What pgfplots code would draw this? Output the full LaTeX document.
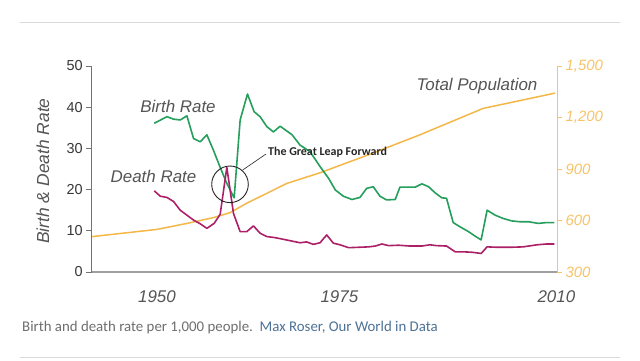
\documentclass[border=0pt]{standalone}
\usepackage{pgfplots}
\pgfplotsset{compat=1.18}
\usepackage{fontspec}
\setmainfont{Liberation Sans}
\newfontfamily\carlito{Carlito}
\definecolor{birth}{RGB}{38,158,92}
\definecolor{death}{RGB}{172,32,104}
\definecolor{pop}{RGB}{244,184,72}
\definecolor{poplab}{RGB}{246,196,104}
\definecolor{txt}{RGB}{85,85,85}
\definecolor{cap}{RGB}{110,110,110}
\definecolor{link}{RGB}{78,114,150}
\begin{document}
\begin{tikzpicture}[x=1bp,y=1bp]
\useasboundingbox (0,0) rectangle (640,360);
\fill[white] (0,0) rectangle (640,360);
\draw[gray!30, line width=0.8bp] (20,338) -- (620,338);
\draw[gray!30, line width=0.8bp] (20,3) -- (620,3);
% right axis: population
\begin{axis}[
  at={(91.7bp,88bp)}, anchor=south west, scale only axis,
  width=465.3bp, height=206bp,
  xmin=1939.6, xmax=2009.5, ymin=300, ymax=1500,
  axis y line*=right, axis x line=none,
  y axis line style={draw=poplab, line width=0.8bp},
  ytick={300,600,900,1200,1500},
  ytick style={draw=poplab, line width=0.8bp},
  tick align=outside, major tick length=5bp,
  yticklabel style={font=\fontsize{15}{15}\selectfont\itshape, text=poplab},
  /pgf/number format/assume math mode=true,
  /pgf/number format/1000 sep={,},
  clip=false,
]
\addplot[pop, line width=1.5bp, line join=round] coordinates {
(1939.6,506) (1949.4,548) (1953.9,583) (1957.9,617) (1960.4,646)
(1962.9,701) (1965.9,758) (1968.9,816) (1973.9,878) (1981.4,986)
(1988.9,1099) (1998.4,1253) (2009.2,1342)
};
\end{axis}
% left axis: birth and death rate
\begin{axis}[
  at={(91.7bp,88bp)}, anchor=south west, scale only axis,
  width=465.3bp, height=206bp,
  xmin=1939.6, xmax=2009.5, ymin=0, ymax=50,
  axis x line*=bottom, axis y line*=left,
  x axis line style={draw=gray!75, line width=1.6bp},
  y axis line style={draw=gray!90!black, line width=0.8bp},
  ytick={0,10,20,30,40,50},
  xtick={1949.4,1976.8,2009.4}, xticklabels={1950,1975,2010},
  xtick style={draw=none},
  ytick style={draw=gray!90!black, line width=0.8bp},
  tick align=outside, major tick length=5.5bp,
  yticklabel style={font=\fontsize{14.5}{14.5}\selectfont, text=black!78},
  xticklabel style={font=\fontsize{17}{17}\selectfont\itshape, text=txt, yshift=-10bp},
  /pgf/number format/assume math mode=true,
  clip=false,
]
\addplot[birth, line width=1.6bp, line join=round] coordinates {
(1949.0,36.1) (1950.9,37.7) (1951.9,37.1) (1952.9,36.9) (1953.9,37.9)
(1954.9,32.4) (1955.9,31.6) (1956.9,33.3) (1957.9,29.5) (1958.9,25.4)
(1959.9,21.5) (1961.0,18.0) (1961.9,36.9) (1963.0,43.2) (1964.0,38.9)
(1964.9,37.7) (1965.9,35.3) (1966.9,34.0) (1967.9,35.4) (1969.7,33.3)
(1970.9,30.8) (1972.4,29.2) (1973.9,25.6) (1975.2,22.7) (1976.2,19.9)
(1977.4,18.4) (1978.7,17.6) (1979.9,18.1) (1980.9,20.3) (1981.9,20.7)
(1982.9,18.4) (1983.9,17.5) (1985.2,17.6) (1985.9,20.6) (1987.4,20.6)
(1988.2,20.6) (1989.2,21.4) (1990.2,20.7) (1991.2,19.2) (1992.2,18.0)
(1992.9,17.9) (1993.9,12.0) (1994.9,11.0) (1996.2,9.8) (1997.2,8.7)
(1998.1,7.8) (1999.0,15.0) (2000.2,13.8) (2001.4,13.0) (2002.7,12.4)
(2003.9,12.2) (2005.2,12.2) (2006.7,11.8) (2007.9,12.0) (2009.1,12.0)
};
\addplot[death, line width=1.6bp, line join=round] coordinates {
(1949.0,19.7) (1949.9,18.4) (1950.9,18.1) (1951.9,17.1) (1952.9,15.0)
(1953.9,13.8) (1954.9,12.6) (1955.9,11.7) (1956.9,10.6) (1958.0,11.8)
(1958.9,14.0) (1959.9,25.4) (1960.9,14.2) (1961.9,9.8) (1962.9,9.8)
(1963.9,11.2) (1964.9,9.4) (1965.9,8.6) (1966.9,8.4) (1967.9,8.1)
(1969.4,7.6) (1970.9,7.1) (1971.9,7.3) (1972.9,6.7) (1973.9,7.1)
(1974.9,9.0) (1975.9,7.0) (1976.9,6.6) (1978.2,5.9) (1979.7,6.0)
(1981.2,6.1) (1982.2,6.3) (1983.2,6.8) (1984.2,6.4) (1985.7,6.5)
(1987.4,6.3) (1989.2,6.3) (1990.4,6.6) (1991.4,6.4) (1992.9,6.3)
(1994.2,4.9) (1995.4,4.9) (1996.7,4.8) (1998.1,4.5) (1999.0,6.1)
(2000.5,6.0) (2002.5,6.0) (2004.4,6.1) (2006.5,6.6) (2007.9,6.8)
(2009.1,6.8)
};
\end{axis}
% annotations
\node[rotate=90, font=\fontsize{17.5}{17.5}\selectfont\itshape, text=txt] at (43,189) {Birth \& Death Rate};
\node[font=\fontsize{17}{17}\selectfont\itshape, text=txt] at (178,254) {Birth Rate};
\node[font=\fontsize{17}{17}\selectfont\itshape, text=txt] at (153.5,184) {Death Rate};
\node[font=\fontsize{17}{17}\selectfont\itshape, text=txt] at (477,274) {Total Population};
\node[font=\carlito\bfseries\fontsize{12}{12}\selectfont, anchor=west, inner sep=0, text=black!85] at (268,207.5) {The Great Leap Forward};
\draw[black!85, line width=0.9bp] (230,175.7) circle (18.3);
\draw[black!85, line width=0.6bp] (242.7,190) -- (266,206);
\node[anchor=west, inner sep=0, font=\carlito\fontsize{14.9}{14.9}\selectfont] at (22,32) {\textcolor{cap}{Birth and death rate per 1,000 people.}\ \ \textcolor{link}{Max Roser, Our World in Data}};
\end{tikzpicture}
\end{document}
